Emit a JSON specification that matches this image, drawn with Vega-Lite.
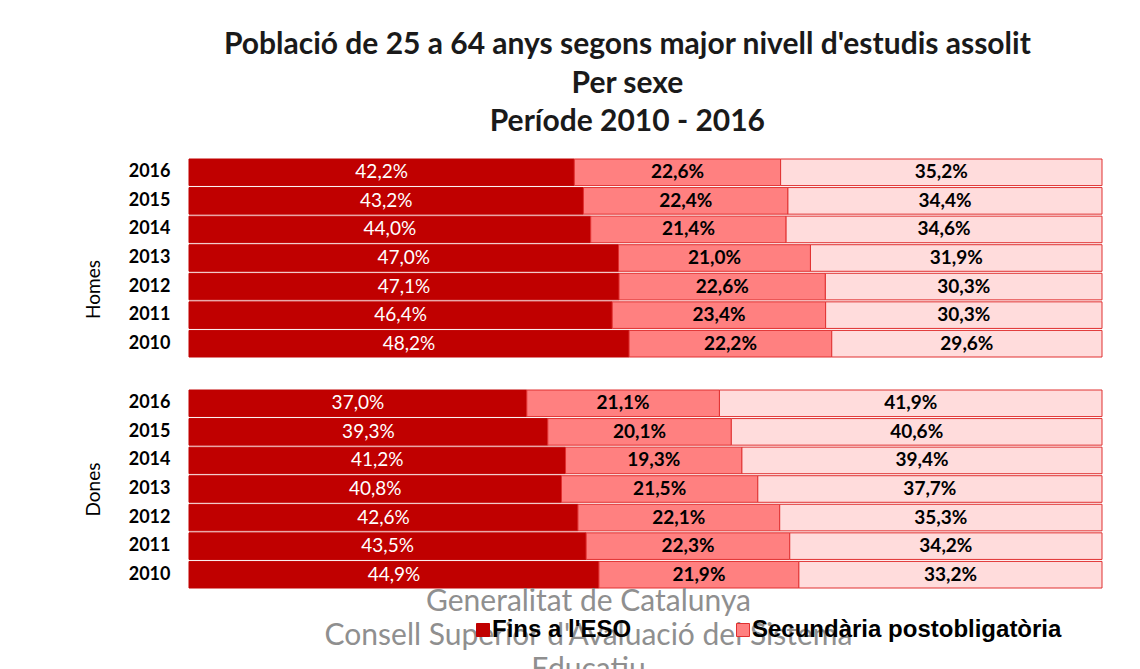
{
  "$schema": "https://vega.github.io/schema/vega-lite/v6.json",
  "background": "white",
  "padding": {"left": 84, "top": 30, "right": 5, "bottom": 0},
  "config": {
    "locale": {"number": {"decimal": ",", "thousands": ".", "grouping": [3], "currency": ["", " €"]}},
    "view": {"stroke": null},
    "font": "Lato"
  },
  "title": {
    "text": ["Població de 25 a 64 anys segons major nivell d'estudis assolit", "Per sexe", "Període 2010 - 2016"],
    "fontSize": 30, "font": "Lato", "fontWeight": "bold", "color": "#1a1a1a",
    "lineHeight": 38.5, "anchor": "middle", "offset": 21, "dx": 34
  },
  "datasets": {
    "dades": [
      {"sexe": "Homes", "any": 2016, "nivell": "Fins a l'ESO", "ordre": 1, "valor": 0.422},
      {"sexe": "Homes", "any": 2016, "nivell": "Secundària postobligatòria", "ordre": 2, "valor": 0.226},
      {"sexe": "Homes", "any": 2016, "nivell": "Estudis superiors", "ordre": 3, "valor": 0.352},
      {"sexe": "Homes", "any": 2015, "nivell": "Fins a l'ESO", "ordre": 1, "valor": 0.432},
      {"sexe": "Homes", "any": 2015, "nivell": "Secundària postobligatòria", "ordre": 2, "valor": 0.224},
      {"sexe": "Homes", "any": 2015, "nivell": "Estudis superiors", "ordre": 3, "valor": 0.344},
      {"sexe": "Homes", "any": 2014, "nivell": "Fins a l'ESO", "ordre": 1, "valor": 0.440},
      {"sexe": "Homes", "any": 2014, "nivell": "Secundària postobligatòria", "ordre": 2, "valor": 0.214},
      {"sexe": "Homes", "any": 2014, "nivell": "Estudis superiors", "ordre": 3, "valor": 0.346},
      {"sexe": "Homes", "any": 2013, "nivell": "Fins a l'ESO", "ordre": 1, "valor": 0.470},
      {"sexe": "Homes", "any": 2013, "nivell": "Secundària postobligatòria", "ordre": 2, "valor": 0.210},
      {"sexe": "Homes", "any": 2013, "nivell": "Estudis superiors", "ordre": 3, "valor": 0.319},
      {"sexe": "Homes", "any": 2012, "nivell": "Fins a l'ESO", "ordre": 1, "valor": 0.471},
      {"sexe": "Homes", "any": 2012, "nivell": "Secundària postobligatòria", "ordre": 2, "valor": 0.226},
      {"sexe": "Homes", "any": 2012, "nivell": "Estudis superiors", "ordre": 3, "valor": 0.303},
      {"sexe": "Homes", "any": 2011, "nivell": "Fins a l'ESO", "ordre": 1, "valor": 0.464},
      {"sexe": "Homes", "any": 2011, "nivell": "Secundària postobligatòria", "ordre": 2, "valor": 0.234},
      {"sexe": "Homes", "any": 2011, "nivell": "Estudis superiors", "ordre": 3, "valor": 0.303},
      {"sexe": "Homes", "any": 2010, "nivell": "Fins a l'ESO", "ordre": 1, "valor": 0.482},
      {"sexe": "Homes", "any": 2010, "nivell": "Secundària postobligatòria", "ordre": 2, "valor": 0.222},
      {"sexe": "Homes", "any": 2010, "nivell": "Estudis superiors", "ordre": 3, "valor": 0.296},
      {"sexe": "Dones", "any": 2016, "nivell": "Fins a l'ESO", "ordre": 1, "valor": 0.370},
      {"sexe": "Dones", "any": 2016, "nivell": "Secundària postobligatòria", "ordre": 2, "valor": 0.211},
      {"sexe": "Dones", "any": 2016, "nivell": "Estudis superiors", "ordre": 3, "valor": 0.419},
      {"sexe": "Dones", "any": 2015, "nivell": "Fins a l'ESO", "ordre": 1, "valor": 0.393},
      {"sexe": "Dones", "any": 2015, "nivell": "Secundària postobligatòria", "ordre": 2, "valor": 0.201},
      {"sexe": "Dones", "any": 2015, "nivell": "Estudis superiors", "ordre": 3, "valor": 0.406},
      {"sexe": "Dones", "any": 2014, "nivell": "Fins a l'ESO", "ordre": 1, "valor": 0.412},
      {"sexe": "Dones", "any": 2014, "nivell": "Secundària postobligatòria", "ordre": 2, "valor": 0.193},
      {"sexe": "Dones", "any": 2014, "nivell": "Estudis superiors", "ordre": 3, "valor": 0.394},
      {"sexe": "Dones", "any": 2013, "nivell": "Fins a l'ESO", "ordre": 1, "valor": 0.408},
      {"sexe": "Dones", "any": 2013, "nivell": "Secundària postobligatòria", "ordre": 2, "valor": 0.215},
      {"sexe": "Dones", "any": 2013, "nivell": "Estudis superiors", "ordre": 3, "valor": 0.377},
      {"sexe": "Dones", "any": 2012, "nivell": "Fins a l'ESO", "ordre": 1, "valor": 0.426},
      {"sexe": "Dones", "any": 2012, "nivell": "Secundària postobligatòria", "ordre": 2, "valor": 0.221},
      {"sexe": "Dones", "any": 2012, "nivell": "Estudis superiors", "ordre": 3, "valor": 0.353},
      {"sexe": "Dones", "any": 2011, "nivell": "Fins a l'ESO", "ordre": 1, "valor": 0.435},
      {"sexe": "Dones", "any": 2011, "nivell": "Secundària postobligatòria", "ordre": 2, "valor": 0.223},
      {"sexe": "Dones", "any": 2011, "nivell": "Estudis superiors", "ordre": 3, "valor": 0.342},
      {"sexe": "Dones", "any": 2010, "nivell": "Fins a l'ESO", "ordre": 1, "valor": 0.449},
      {"sexe": "Dones", "any": 2010, "nivell": "Secundària postobligatòria", "ordre": 2, "valor": 0.219},
      {"sexe": "Dones", "any": 2010, "nivell": "Estudis superiors", "ordre": 3, "valor": 0.332}
    ]
  },
  "spacing": 31,
  "bounds": "flush",
  "vconcat": [
    {
      "width": 913, "height": 200,
      "data": {"name": "dades"},
      "transform": [{"filter": "datum.sexe == 'Homes'"}],
      "encoding": {
        "y": {"field": "any", "type": "ordinal", "sort": "descending", "title": "Homes",
          "scale": {"paddingInner": 0.07, "paddingOuter": 0.035},
          "axis": {"ticks": false, "domain": false, "labelPadding": 19, "labelFont": "Lato", "labelFontSize": 18, "labelFontWeight": "bold", "labelColor": "black", "titleFont": "Lato", "titleFontSize": 19, "titleFontWeight": "normal", "titleColor": "black", "titlePadding": 25, "titleY": 131}}
      },
      "layer": [
        {
          "mark": {"type": "bar", "strokeWidth": 1},
          "encoding": {
            "x": {"field": "valor", "type": "quantitative", "stack": "normalize", "axis": null},
            "color": {"field": "nivell", "type": "nominal",
              "scale": {"domain": ["Fins a l'ESO", "Secundària postobligatòria", "Estudis superiors"], "range": ["#C00000", "#FF8080", "#FFDCDC"]},
              "legend": {"orient": "none", "legendX": 282, "legendY": 460, "direction": "horizontal", "title": null, "values": ["Fins a l'ESO", "Secundària postobligatòria"], "symbolType": "square", "symbolSize": 169, "symbolStrokeWidth": 1, "labelFont": "Liberation Sans", "labelFontSize": 24, "labelFontWeight": "bold", "labelColor": "black", "labelOffset": -3, "labelLimit": 500, "columnPadding": 99}},
            "stroke": {"field": "nivell", "type": "nominal",
              "scale": {"domain": ["Fins a l'ESO", "Secundària postobligatòria", "Estudis superiors"], "range": ["#C00000", "#E03030", "#E03030"]},
              "legend": {"orient": "none", "legendX": 282, "legendY": 460, "direction": "horizontal", "title": null, "values": ["Fins a l'ESO", "Secundària postobligatòria"], "symbolType": "square", "symbolSize": 169, "symbolStrokeWidth": 1, "labelFont": "Liberation Sans", "labelFontSize": 24, "labelFontWeight": "bold", "labelColor": "black", "labelOffset": -3, "labelLimit": 500, "columnPadding": 99}},
            "order": {"field": "ordre", "type": "quantitative"}
          }
        },
        {
          "mark": {"type": "text", "font": "Lato", "fontSize": 19, "color": "white"},
          "encoding": {
            "x": {"field": "valor", "type": "quantitative", "stack": "normalize", "bandPosition": 0.5},
            "detail": {"field": "nivell"},
            "order": {"field": "ordre", "type": "quantitative"},
            "text": {"field": "valor", "type": "quantitative", "format": ".1%"},
            "opacity": {"condition": {"test": "datum.ordre == 1", "value": 1}, "value": 0}
          }
        },
        {
          "mark": {"type": "text", "font": "Lato", "fontSize": 19, "fontWeight": "bold", "color": "black"},
          "encoding": {
            "x": {"field": "valor", "type": "quantitative", "stack": "normalize", "bandPosition": 0.5},
            "detail": {"field": "nivell"},
            "order": {"field": "ordre", "type": "quantitative"},
            "text": {"field": "valor", "type": "quantitative", "format": ".1%"},
            "opacity": {"condition": {"test": "datum.ordre == 1", "value": 0}, "value": 1}
          }
        }
      ]
    },
    {
      "width": 913, "height": 200,
      "data": {"name": "dades"},
      "transform": [{"filter": "datum.sexe == 'Dones'"}],
      "encoding": {
        "y": {"field": "any", "type": "ordinal", "sort": "descending", "title": "Dones",
          "scale": {"paddingInner": 0.07, "paddingOuter": 0.035},
          "axis": {"ticks": false, "domain": false, "labelPadding": 19, "labelFont": "Lato", "labelFontSize": 18, "labelFontWeight": "bold", "labelColor": "black", "titleFont": "Lato", "titleFontSize": 19, "titleFontWeight": "normal", "titleColor": "black", "titlePadding": 25}}
      },
      "layer": [
        {
          "mark": {"type": "bar", "strokeWidth": 1},
          "encoding": {
            "x": {"field": "valor", "type": "quantitative", "stack": "normalize", "axis": null},
            "color": {"field": "nivell", "type": "nominal",
              "scale": {"domain": ["Fins a l'ESO", "Secundària postobligatòria", "Estudis superiors"], "range": ["#C00000", "#FF8080", "#FFDCDC"]},
              "legend": {"orient": "none", "legendX": 282, "legendY": 460, "direction": "horizontal", "title": null, "values": ["Fins a l'ESO", "Secundària postobligatòria"], "symbolType": "square", "symbolSize": 169, "symbolStrokeWidth": 1, "labelFont": "Liberation Sans", "labelFontSize": 24, "labelFontWeight": "bold", "labelColor": "black", "labelOffset": -3, "labelLimit": 500, "columnPadding": 99}},
            "stroke": {"field": "nivell", "type": "nominal",
              "scale": {"domain": ["Fins a l'ESO", "Secundària postobligatòria", "Estudis superiors"], "range": ["#C00000", "#E03030", "#E03030"]},
              "legend": {"orient": "none", "legendX": 282, "legendY": 460, "direction": "horizontal", "title": null, "values": ["Fins a l'ESO", "Secundària postobligatòria"], "symbolType": "square", "symbolSize": 169, "symbolStrokeWidth": 1, "labelFont": "Liberation Sans", "labelFontSize": 24, "labelFontWeight": "bold", "labelColor": "black", "labelOffset": -3, "labelLimit": 500, "columnPadding": 99}},
            "order": {"field": "ordre", "type": "quantitative"}
          }
        },
        {
          "mark": {"type": "text", "font": "Lato", "fontSize": 19, "color": "white"},
          "encoding": {
            "x": {"field": "valor", "type": "quantitative", "stack": "normalize", "bandPosition": 0.5},
            "detail": {"field": "nivell"},
            "order": {"field": "ordre", "type": "quantitative"},
            "text": {"field": "valor", "type": "quantitative", "format": ".1%"},
            "opacity": {"condition": {"test": "datum.ordre == 1", "value": 1}, "value": 0}
          }
        },
        {
          "mark": {"type": "text", "font": "Lato", "fontSize": 19, "fontWeight": "bold", "color": "black"},
          "encoding": {
            "x": {"field": "valor", "type": "quantitative", "stack": "normalize", "bandPosition": 0.5},
            "detail": {"field": "nivell"},
            "order": {"field": "ordre", "type": "quantitative"},
            "text": {"field": "valor", "type": "quantitative", "format": ".1%"},
            "opacity": {"condition": {"test": "datum.ordre == 1", "value": 0}, "value": 1}
          }
        }
      ]
    },
    {
      "width": 913, "height": 34,
      "data": {"values": [
        {"linia": 1, "text": "Generalitat de Catalunya"},
        {"linia": 2, "text": "Consell Superior d'Avaluació del Sistema"},
        {"linia": 3, "text": "Educatiu"}
      ]},
      "mark": {"type": "text", "font": "Lato", "fontSize": 30, "color": "#8f8f8f", "dx": -57, "dy": -18},
      "encoding": {
        "y": {"field": "linia", "type": "quantitative", "scale": {"domain": [1, 2], "reverse": true, "zero": false, "nice": false}, "axis": null},
        "text": {"field": "text"}
      }
    }
  ]
}
